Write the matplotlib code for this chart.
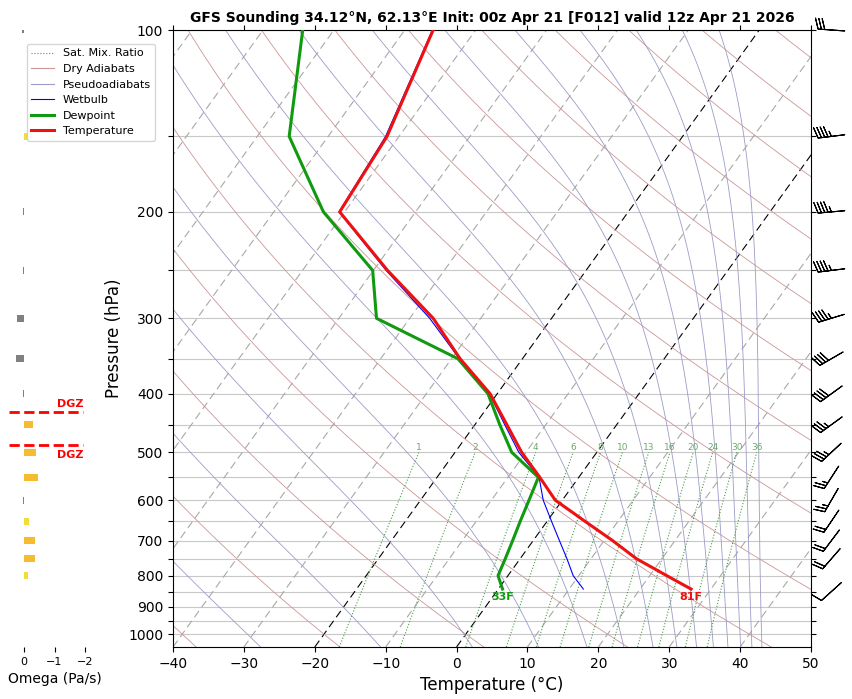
import numpy as np
import matplotlib
matplotlib.use('Agg')
import matplotlib.pyplot as plt
import matplotlib.transforms as mtransforms
from matplotlib.lines import Line2D

# sounding levels (hPa) and profiles (degC)
pres = [842, 800, 750, 700, 650, 600, 550, 500, 450, 400, 350, 300, 250, 200, 150, 100]
temp = [27.2, 22.4, 16.4, 11.2, 5.3, -1.0, -5.5, -10.6, -15.5, -21.0, -28.8, -36.7, -48.0, -60.7, -61.7, -66.0]
dewp = [0.6, -1.4, -2.1, -2.9, -3.8, -4.7, -5.7, -12.0, -16.5, -21.3, -29.1, -44.7, -50.1, -63.0, -75.5, -84.4]
wetb = [12.0, 9.2, 6.6, 3.7, 0.6, -2.7, -5.6, -11.0, -15.8, -21.1, -28.9, -37.2, -48.2, -60.8, -61.9, -66.1]

# winds (direction deg, speed kt)
wind_p = [100, 150, 200, 250, 300, 350, 400, 450, 500, 550, 600, 650, 700, 750, 850]
wind_dir = [274, 263, 265, 263, 253, 240, 234, 234, 227, 213, 210, 214, 217, 221, 228]
wind_kt = [30, 45, 45, 45, 45, 40, 40, 35, 35, 25, 25, 20, 20, 20, 10]

# omega (Pa/s)
omega_p = [100, 150, 200, 250, 300, 350, 400, 450, 500, 550, 600, 650, 700, 750, 800]
omega = [0.07, -0.11, 0.03, 0.03, 0.23, 0.26, 0.03, -0.30, -0.40, -0.44, 0.03, -0.17, -0.37, -0.37, -0.14]

# dendritic growth zone bounds (hPa)
dgz_top = 429
dgz_bot = 487

# background lines
mix_ratios = [1, 2, 4, 6, 8, 10, 13, 16, 20, 24, 30, 36]
dry_theta = list(range(-40, 240, 20))      # degC
moist_thetae = list(range(-30, 250, 20))   # degC
isotherms = list(range(-120, 60, 10))

P_BOT, P_TOP = 1050, 100
SKEW = 62.7  # degC shift of an isotherm over the full plot height


def dewpt_from_w(w, p):
    e = w / 1000 * p / (0.622 + w / 1000)
    ln = np.log(e / 6.112)
    return 243.5 * ln / (17.67 - ln)


def thetae_sat(tc, p):
    tk = tc + 273.15
    es = 6.112 * np.exp(17.67 * tc / (tc + 243.5))
    r = 622.0 * es / np.maximum(p - es, 1e-3)
    return tk * (1000 / p) ** (0.2854 * (1 - 0.00028 * r)) * np.exp((3.376 / tk - 0.00254) * r * (1 + 0.00081 * r))


def moist_line(te_k, p):
    lo = np.full_like(p, -160.0)
    hi = np.full_like(p, 45.0)
    with np.errstate(over='ignore', invalid='ignore'):
        for _ in range(60):
            mid = 0.5 * (lo + hi)
            f = thetae_sat(mid, p) - te_k
            lo = np.where(f < 0, mid, lo)
            hi = np.where(f >= 0, mid, hi)
    return 0.5 * (lo + hi)


fig = plt.figure(figsize=(8.52, 6.99), dpi=100)
ax = fig.add_axes([173 / 852, 1 - 647 / 699, 638 / 852, 617 / 699])
ax.set_yscale('log')
ax.set_ylim(P_BOT, P_TOP)
ax.set_xlim(-40, 50)
skew = (ax.transScale + ax.transLimits
        + mtransforms.Affine2D().skew(np.arctan(SKEW / 90), 0) + ax.transAxes)

yt = list(range(100, 1001, 50))
ax.set_yticks(yt)
ax.set_yticklabels([str(v) if v % 100 == 0 else '' for v in yt])
ax.yaxis.set_minor_locator(matplotlib.ticker.NullLocator())
ax.set_xticks(range(-40, 51, 10))
ax.tick_params(top=True, right=True, labelsize=10)
for p in yt:
    ax.axhline(p, color='#c8c8c8', lw=0.8, zorder=0)

pp = np.geomspace(P_BOT, P_TOP, 200)
for t in isotherms:
    if t in (0, -20):
        ax.plot([t, t], [P_BOT, P_TOP], color='black', lw=0.8, dashes=(7, 4), transform=skew, zorder=1)
    else:
        ax.plot([t, t], [P_BOT, P_TOP], color='#a8a8a8', lw=0.8, dashes=(7, 4), transform=skew, zorder=1)
for th in dry_theta:
    ax.plot((th + 273.15) * (pp / 1000) ** 0.2857 - 273.15, pp, color='#cc9696', lw=0.6,
            transform=skew, zorder=1)
for te in moist_thetae:
    ax.plot(moist_line(te + 273.15, pp), pp, color='#9c9cc8', lw=0.6, transform=skew, zorder=1)
pw = np.geomspace(P_BOT, 500, 60)
for w in mix_ratios:
    ax.plot(dewpt_from_w(w, pw), pw, color='#4c9c4c', lw=0.8, ls=':', transform=skew, zorder=1)
    ax.text(dewpt_from_w(w, 500), 500, str(w), transform=skew, ha='center', va='bottom',
            fontsize=6.5, color='#6aaa6a')

ax.plot(wetb, pres, color='blue', lw=0.8, transform=skew, zorder=3)
ax.plot(dewp, pres, color='#109a10', lw=2.2, transform=skew, zorder=4)
ax.plot(temp, pres, color='#ee1111', lw=2.2, transform=skew, zorder=5)

ax.annotate(f"{temp[0] * 9 / 5 + 32:.0f}F", (temp[0], pres[0]), xycoords=skew,
            xytext=(0, -2), textcoords='offset points', ha='center', va='top',
            fontsize=8, fontweight='bold', color='#ee1111')
ax.annotate(f"{dewp[0] * 9 / 5 + 32:.0f}F", (dewp[0], pres[0]), xycoords=skew,
            xytext=(0, -2), textcoords='offset points', ha='center', va='top',
            fontsize=8, fontweight='bold', color='#109a10')

wd = np.radians(wind_dir)
u = -np.array(wind_kt) * np.sin(wd)
v = -np.array(wind_kt) * np.cos(wd)
blend = mtransforms.blended_transform_factory(ax.transAxes, ax.transData)
ax.barbs(np.full(len(wind_p), 1.032), wind_p, u, v, transform=blend, clip_on=False,
         length=6.2, pivot='middle', lw=0.8)

ax.set_xlabel('Temperature (°C)', fontsize=12)
ax.set_ylabel('Pressure (hPa)', fontsize=12)
ax.set_title('GFS Sounding 34.12°N, 62.13°E Init: 00z Apr 21 [F012] valid 12z Apr 21 2026',
             fontsize=10, fontweight='bold')

handles = [
    Line2D([], [], color='#4c9c4c', lw=0.8, ls=':'),
    Line2D([], [], color='#cc9696', lw=0.8),
    Line2D([], [], color='#9c9cc8', lw=0.8),
    Line2D([], [], color='blue', lw=0.8),
    Line2D([], [], color='#109a10', lw=2.2),
    Line2D([], [], color='#ee1111', lw=2.2),
]
labels = ['Sat. Mix. Ratio', 'Dry Adiabats', 'Pseudoadiabats', 'Wetbulb', 'Dewpoint', 'Temperature']
fig.legend(handles, labels, loc='upper left', bbox_to_anchor=(27 / 852, 1 - 44 / 699),
           borderaxespad=0, fontsize=8)

# omega panel
ax2 = fig.add_axes([9 / 852, 1 - 647 / 699, 91 / 852, 617 / 699])
ax2.set_yscale('log')
ax2.set_ylim(P_BOT, P_TOP)
ax2.set_xlim(0.5, -2.5)
cols = ['#808080' if w > 0 else ('#f2dc3a' if w > -0.25 else '#f6bc30') for w in omega]
ax2.barh(omega_p, omega, height=np.array(omega_p) * 0.026, color=cols)
for s in ax2.spines.values():
    s.set_visible(False)
ax2.set_yticks([])
ax2.yaxis.set_minor_locator(matplotlib.ticker.NullLocator())
ax2.set_xticks([0, -1, -2])
ax2.tick_params(labelsize=8)
ax2.set_xlabel('Omega (Pa/s)', fontsize=10)
ax2.hlines([dgz_top, dgz_bot], 0.5, -1.95, colors='red', linestyles='--', lw=2)
ax2.annotate('DGZ', (-1.97, dgz_top), xytext=(0, 2), textcoords='offset points',
             ha='right', va='bottom', color='red', fontsize=8, fontweight='bold')
ax2.annotate('DGZ', (-1.97, dgz_bot), xytext=(0, -3), textcoords='offset points',
             ha='right', va='top', color='red', fontsize=8, fontweight='bold')

fig.savefig('out.png', dpi=100)
